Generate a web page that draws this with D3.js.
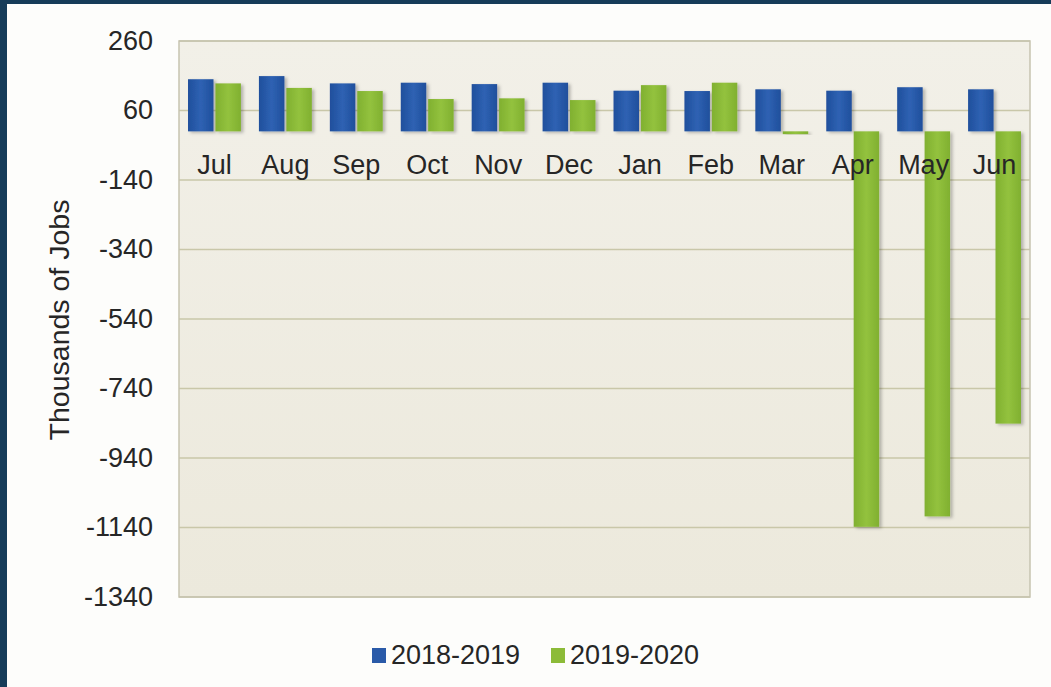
<!DOCTYPE html>
<html>
<head>
<meta charset="utf-8">
<script src="https://cdn.jsdelivr.net/npm/d3@7"></script>
<style>
  body { margin: 0; background: #ffffff; }
  svg { display: block; font-family: "Liberation Sans", Arial, sans-serif; }
</style>
</head>
<body>
<svg id="chart"></svg>
<script>
const months = ["Jul", "Aug", "Sep", "Oct", "Nov", "Dec", "Jan", "Feb", "Mar", "Apr", "May", "Jun"];
const seriesNames = ["2018-2019", "2019-2020"];
const jobs1819 = [150, 159, 138, 140, 136, 140, 117, 116, 121, 117, 127, 121];
const jobs1920 = [138, 125, 116, 93, 95, 90, 133, 140, -8, -1138, -1108, -841];
const yTicks = [260, 60, -140, -340, -540, -740, -940, -1140, -1340];
const colors = ["#2a5aa8", "#8cbb38"];

const WIDTH = 1051, HEIGHT = 687;
const plot = {left: 179, right: 1030, top: 41, bottom: 597};

const svg = d3.select("#chart").attr("width", WIDTH).attr("height", HEIGHT);

// navy frame + white page
svg.append("rect").attr("width", WIDTH).attr("height", HEIGHT).attr("fill", "#163c59");
svg.append("rect").attr("x", 7).attr("y", 4).attr("width", WIDTH - 7).attr("height", HEIGHT - 4).attr("fill", "#fdfdfb");

const defs = svg.append("defs");
const bg = defs.append("linearGradient").attr("id", "plotbg").attr("x1", 0).attr("y1", 0).attr("x2", 0).attr("y2", 1);
bg.append("stop").attr("offset", "0%").attr("stop-color", "#f2f0e8");
bg.append("stop").attr("offset", "100%").attr("stop-color", "#ece9dc");

const grads = [["blueg", "#2f62b3", "#1f4f9c"], ["greeng", "#93c23e", "#80b030"]];
grads.forEach(([id, c1, c2]) => {
  const g = defs.append("linearGradient").attr("id", id).attr("x1", 0).attr("x2", 1).attr("y1", 0).attr("y2", 0);
  g.append("stop").attr("offset", "0%").attr("stop-color", c2);
  g.append("stop").attr("offset", "50%").attr("stop-color", c1);
  g.append("stop").attr("offset", "100%").attr("stop-color", c2);
});

const shadow = defs.append("filter").attr("id", "shadow")
  .attr("x", "-20%").attr("y", "-5%").attr("width", "150%").attr("height", "115%");
shadow.append("feDropShadow").attr("dx", 2.5).attr("dy", 1.5).attr("stdDeviation", 1.5)
  .attr("flood-color", "#000").attr("flood-opacity", 0.25);

const x0 = d3.scaleBand().domain(months).range([plot.left, plot.right])
  .paddingInner(0.2).paddingOuter(0.1);
const x1 = d3.scaleBand().domain(seriesNames).range([0, x0.bandwidth()]).padding(0.07);
const y = d3.scaleLinear().domain([-1340, 260]).range([plot.bottom, plot.top]);

// plot area
svg.append("rect")
  .attr("x", plot.left).attr("y", plot.top)
  .attr("width", plot.right - plot.left).attr("height", plot.bottom - plot.top)
  .attr("fill", "url(#plotbg)");

svg.append("g")
  .selectAll("line")
  .data(yTicks)
  .join("line")
  .attr("x1", plot.left).attr("x2", plot.right)
  .attr("y1", d => y(d)).attr("y2", d => y(d))
  .attr("stroke", "#c9c7a9").attr("stroke-width", 1.5);

svg.append("rect")
  .attr("x", plot.left).attr("y", plot.top)
  .attr("width", plot.right - plot.left).attr("height", plot.bottom - plot.top)
  .attr("fill", "none").attr("stroke", "#c6c3b0").attr("stroke-width", 1.5);

// bars
const rows = months.map((m, i) => ({month: m, values: [jobs1819[i], jobs1920[i]]}));
const groups = svg.append("g")
  .selectAll("g")
  .data(rows)
  .join("g")
  .attr("transform", d => `translate(${x0(d.month)},0)`);

groups.selectAll("rect")
  .data(d => d.values.map((v, k) => ({key: seriesNames[k], k: k, value: v})))
  .join("rect")
  .attr("x", d => x1(d.key))
  .attr("width", x1.bandwidth())
  .attr("y", d => y(Math.max(0, d.value)))
  .attr("height", d => Math.abs(y(d.value) - y(0)))
  .attr("fill", d => d.k === 0 ? "url(#blueg)" : "url(#greeng)")
  .attr("filter", "url(#shadow)");

// category axis at zero
const xAxis = svg.append("g")
  .attr("transform", `translate(0,${y(0)})`)
  .call(d3.axisBottom(x0).tickSize(0).tickPadding(23));
xAxis.select(".domain").remove();
xAxis.selectAll("text")
  .attr("font-size", 27).attr("font-family", "Liberation Sans, Arial, sans-serif")
  .attr("fill", "#262626");

// value axis
const yAxis = svg.append("g")
  .attr("transform", `translate(${plot.left},0)`)
  .call(d3.axisLeft(y).tickValues(yTicks).tickFormat(d => String(d)).tickSize(0).tickPadding(26));
yAxis.select(".domain").remove();
yAxis.selectAll("text")
  .attr("font-size", 27).attr("font-family", "Liberation Sans, Arial, sans-serif")
  .attr("fill", "#262626").attr("dy", "0.3em");

svg.append("text")
  .attr("transform", `translate(69,${(plot.top + plot.bottom) / 2 + 1}) rotate(-90)`)
  .attr("text-anchor", "middle")
  .attr("font-size", 28.5)
  .attr("fill", "#262626")
  .text("Thousands of Jobs");

// legend
const legend = svg.append("g")
  .selectAll("g")
  .data(seriesNames)
  .join("g")
  .attr("transform", (d, i) => `translate(${372 + i * 179},648)`);
legend.append("rect")
  .attr("width", 14).attr("height", 15)
  .attr("fill", (d, i) => colors[i]);
legend.append("text")
  .attr("x", 19).attr("y", 16)
  .attr("font-size", 27)
  .attr("fill", "#262626")
  .text(d => d);
</script>
</body>
</html>
